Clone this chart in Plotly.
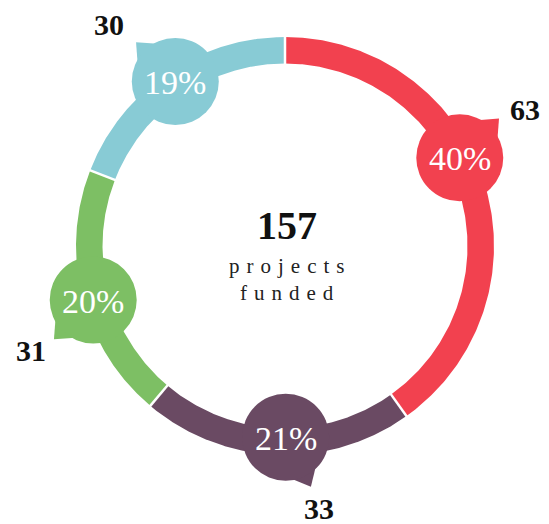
import numpy as np
import plotly.graph_objects as go

# ---------------- data ----------------
segment_values = [63, 33, 31, 30]
segment_colors = ["#F2414F", "#6A4A63", "#7DBF64", "#88CBD5"]
total_label = "157"
center_lines = ["projects", "funded"]

# ---------------- layout / style constants ----------------
W, H = 549, 524            # browser window
PAGE_MARGIN = 8            # default body margin of the html page
CX, CY = 285, 246          # ring centre (screen px)
R_OUT, R_IN = 209, 182.5   # ring radii (px)
R_MID = (R_OUT + R_IN) / 2
BUBBLE_R = 43.5
BUBBLE_ANGLE_SHIFT = [-9, -2.5, -1.4, 0.7]  # deg, small placement tweaks
BUBBLE_RADIAL_SHIFT = [0, -4.5, 3.5, 2.0]   # px
TAIL_DIR = [45, 153, 225, 315]              # deg clockwise from top
LABEL_DIR = [54.7, 155.4, 230, 309.8]
LABEL_DIST = [79.6, 80.3, 81, 86]
LABEL_YSHIFT = -2
SERIF = "Liberation Serif, Times New Roman, serif"


def pt(angle_deg, r, cx=CX, cy=CY):
    a = np.radians(angle_deg)
    return cx + r * np.sin(a), cy - r * np.cos(a)


total = sum(segment_values)
bounds = np.concatenate([[0], np.cumsum(segment_values)]) / total * 360.0

fig = go.Figure()

# ring segments
for i, v in enumerate(segment_values):
    a0, a1 = bounds[i], bounds[i + 1]
    t = np.linspace(a0, a1, 240)
    xo, yo = pt(t, R_OUT)
    xi, yi = pt(t[::-1], R_IN)
    fig.add_trace(go.Scatter(
        x=np.concatenate([xo, xi]), y=np.concatenate([yo, yi]),
        mode="lines", fill="toself", fillcolor=segment_colors[i],
        line=dict(width=0, color=segment_colors[i]),
        hoverinfo="skip", showlegend=False))

# white separators
for b in bounds[:-1]:
    x0, y0 = pt(b, R_IN - 2)
    x1, y1 = pt(b, R_OUT + 2)
    fig.add_trace(go.Scatter(x=[x0, x1], y=[y0, y1], mode="lines",
                             line=dict(color="white", width=2.5),
                             hoverinfo="skip", showlegend=False))

shapes = []
annotations = []
for i, v in enumerate(segment_values):
    mid = (bounds[i] + bounds[i + 1]) / 2 + BUBBLE_ANGLE_SHIFT[i]
    bx, by = pt(mid, R_MID + BUBBLE_RADIAL_SHIFT[i])
    col = segment_colors[i]
    # tail
    tx, ty = pt(TAIL_DIR[i], BUBBLE_R + 12, bx, by)
    p1 = pt(TAIL_DIR[i] - 20, BUBBLE_R - 2, bx, by)
    p2 = pt(TAIL_DIR[i] + 20, BUBBLE_R - 2, bx, by)
    shapes.append(dict(type="path", xref="x", yref="y",
                       path=f"M {p1[0]:.2f} {p1[1]:.2f} L {tx:.2f} {ty:.2f} L {p2[0]:.2f} {p2[1]:.2f} Z",
                       fillcolor=col, line=dict(width=0), layer="above"))
    # bubble
    shapes.append(dict(type="circle", xref="x", yref="y",
                       x0=bx - BUBBLE_R, x1=bx + BUBBLE_R,
                       y0=by - BUBBLE_R, y1=by + BUBBLE_R,
                       fillcolor=col, line=dict(width=0), layer="above"))
    pct = round(v / total * 100)
    annotations.append(dict(x=bx, y=by + 1, xref="x", yref="y", text=f"{pct}%",
                            showarrow=False, xanchor="center", yanchor="middle",
                            font=dict(family=SERIF, size=34, color="white")))
    lx, ly = pt(LABEL_DIR[i], LABEL_DIST[i], bx, by)
    annotations.append(dict(x=lx, y=ly + LABEL_YSHIFT, xref="x", yref="y", text=f"<b>{v}</b>",
                            showarrow=False, xanchor="center", yanchor="middle",
                            font=dict(family=SERIF, size=30, color="#111111")))

# centre text
sp = "\u2004"
annotations.append(dict(x=CX + 1.5, y=CY - 21, xref="x", yref="y", text=f"<b>{total_label}</b>",
                        showarrow=False, xanchor="center", yanchor="middle",
                        font=dict(family=SERIF, size=40, color="#111111")))
for k, line in enumerate(center_lines):
    annotations.append(dict(x=CX + 1.5, y=CY + 19.5 + k * 27, xref="x", yref="y",
                            text=sp.join(line), showarrow=False,
                            xanchor="center", yanchor="middle",
                            font=dict(family=SERIF, size=21, color="#222222")))

fig.update_layout(
    width=W - PAGE_MARGIN, height=H - PAGE_MARGIN, autosize=False,
    margin=dict(l=0, r=0, t=0, b=0),
    paper_bgcolor="white", plot_bgcolor="white",
    xaxis=dict(range=[PAGE_MARGIN, W], visible=False, fixedrange=True),
    yaxis=dict(range=[H, PAGE_MARGIN], visible=False, fixedrange=True),
    shapes=shapes, annotations=annotations, showlegend=False,
)

fig.write_html("out.html")
